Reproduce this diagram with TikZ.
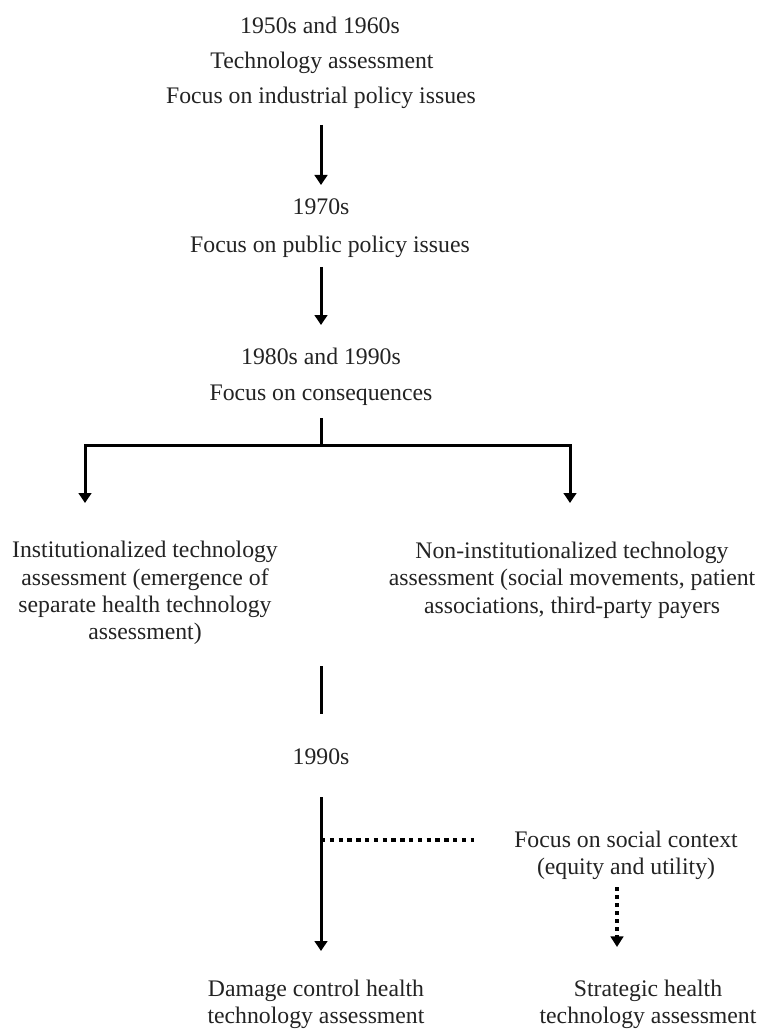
\documentclass[tikz,border=0pt]{standalone}
\usepackage{fontspec}
\setmainfont{Liberation Serif}
\usetikzlibrary{arrows.meta}
\definecolor{ink}{RGB}{35,35,35}
\begin{document}
\begin{tikzpicture}[x=0.75pt,y=-0.75pt,
  txt/.style={font=\fontsize{17.8}{20.5}\selectfont, inner sep=0pt, align=center, text=ink},
  arr/.style={line width=2.25pt, -{Triangle[width=9.5pt,length=7.5pt]}},
  ln/.style={line width=2.25pt},
  dotl/.style={line width=3.2pt, dash pattern=on 3.3pt off 3.3pt},
  dotarr/.style={line width=3pt, dash pattern=on 3pt off 3pt, -{Triangle[width=9.5pt,length=8pt]}}]
\useasboundingbox[fill=white] (0,0) rectangle (760,1030);
\node[txt] (n1) at (320,25) {1950s and 1960s};
\node[txt] (n2) at (322,63) {Technology assessment};
\node[txt] (n3) at (321,98) {Focus on industrial policy issues};
\node[txt] (n4) at (321,207) {1970s};
\node[txt] (n5) at (330,247) {Focus on public policy issues};
\node[txt] (n6) at (321,356) {1980s and 1990s};
\node[txt] (n7) at (321,395) {Focus on consequences};
\node[txt] (L) at (145,593) {Institutionalized technology\\assessment (emergence of\\separate health technology\\assessment)};
\node[txt] (R) at (572,580) {Non-institutionalized technology\\assessment (social movements, patient\\associations, third-party payers};
\node[txt] (n8) at (321,757) {1990s};
\node[txt] (S) at (626,855) {Focus on social context\\(equity and utility)};
\node[txt] (D) at (316,1004) {Damage control health\\technology assessment};
\node[txt] (St) at (648,1004) {Strategic health\\technology assessment};
% junction and free ends
\coordinate (hb) at (321,445);
\coordinate (lt) at (85,503);
\coordinate (rt) at (570,503);
\coordinate (sj) at (321,840);
\coordinate (se) at (474,840);
\coordinate (ds) at (617,887);
\coordinate (de) at (617,947);
% connectors
\draw[arr] (n3.south |- 0,125) -- (n4.north |- 0,185);
\draw[arr] (n6.north |- 0,267) -- (n6.north |- 0,325);
\draw[ln] (n7.south |- 0,418) -- (hb);
\draw[line width=2.25pt, {Triangle[width=9.5pt,length=7.5pt]}-{Triangle[width=9.5pt,length=7.5pt]}]
  (lt) -- (lt |- hb) -- (rt |- hb) -- (rt);
\draw[ln] (n8.north |- 0,666) -- (n8.north |- 0,714);
\draw[arr] (n8.south |- 0,797) -- (n8.south |- 0,951);
\draw[dotl] (sj) -- (se);
\draw[dotarr] (ds) -- (de);
\end{tikzpicture}
\end{document}
